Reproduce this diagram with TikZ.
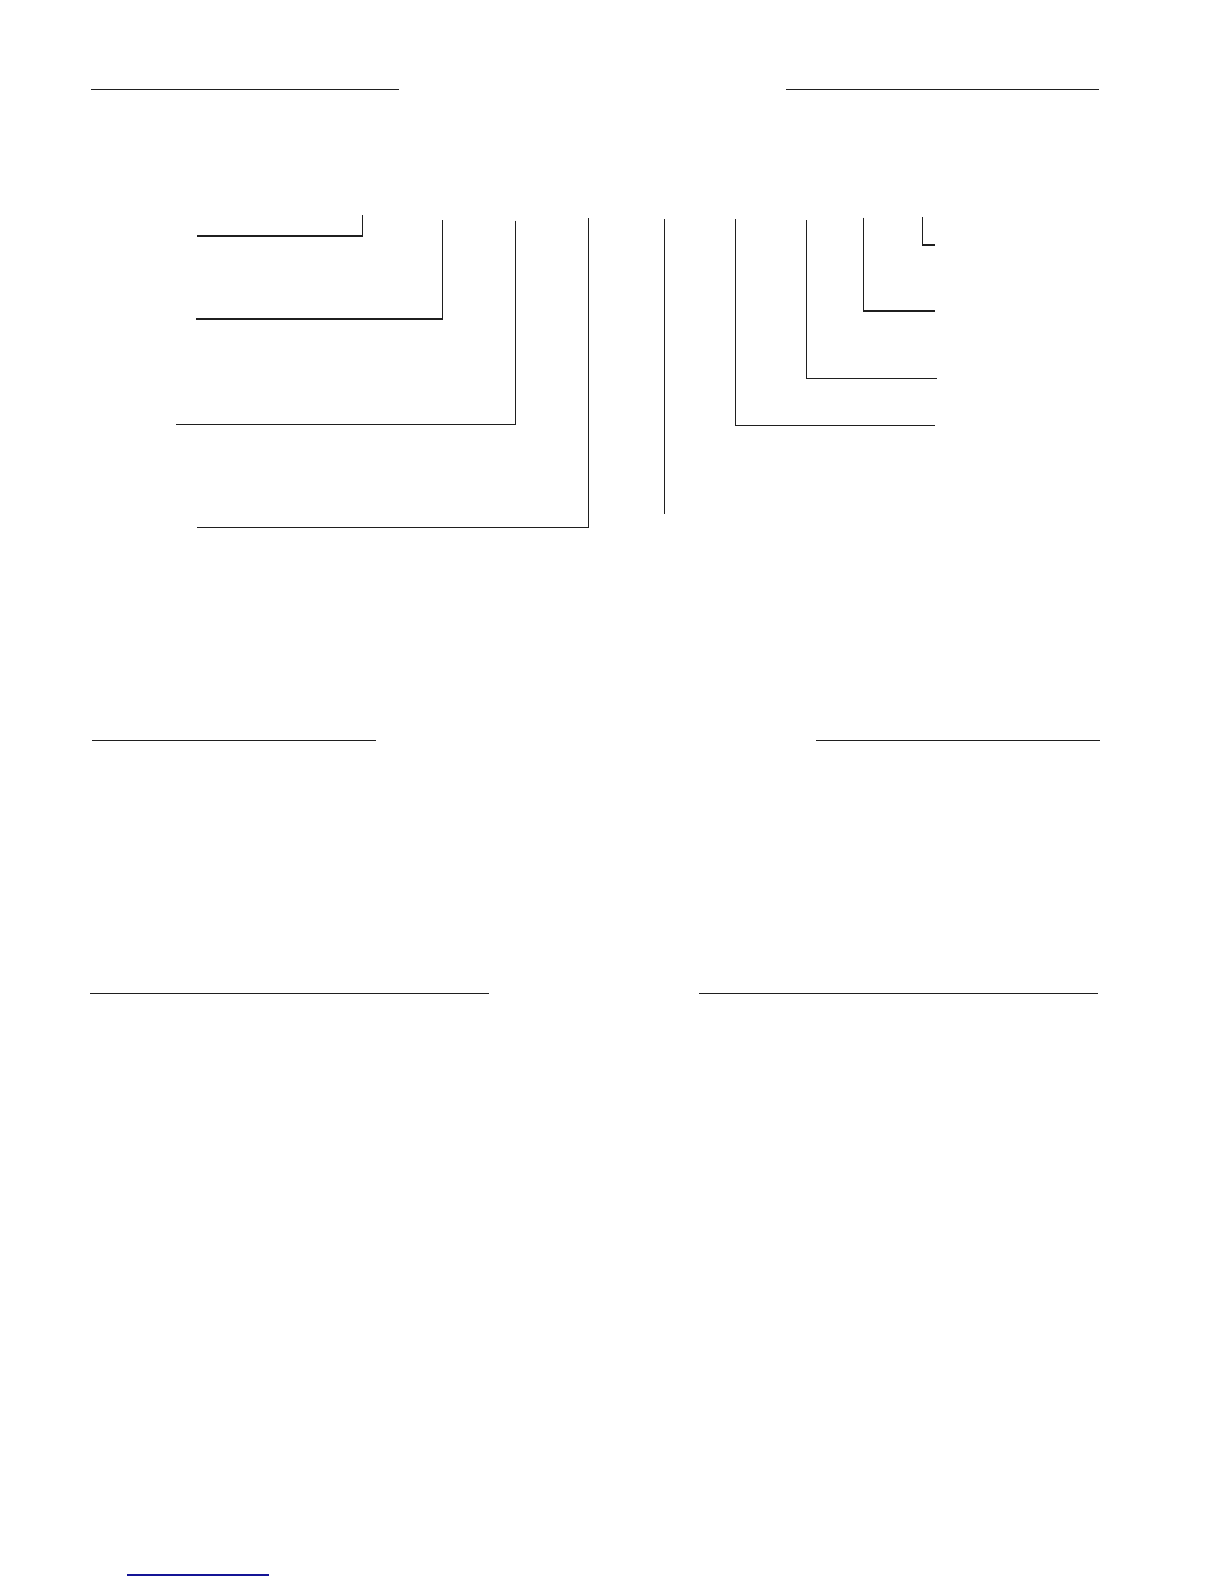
\documentclass[tikz,border=0pt]{standalone}
\usepackage{xcolor}
\definecolor{linkblue}{RGB}{20,20,150}
\begin{document}
\begin{tikzpicture}[x=0.5pt,y=-0.5pt,
  rule/.style={draw=black!88, line width=0.55pt, line cap=butt, line join=miter},
  bluerule/.style={draw=linkblue, line width=0.6pt}]
\useasboundingbox[fill=white] (0,0) rectangle (1224,1584);
% top rules
\draw[rule] (91,89.3) -- (399,89.3);
\draw[rule] (786,89.3) -- (1099,89.3);
% left leader lines
\draw[rule] (362.3,215) -- (362.3,236) -- (196.7,236);
\draw[rule] (442.3,220) -- (442.3,319) -- (195.7,319);
\draw[rule] (515.3,220.7) -- (515.3,424.3) -- (176,424.3);
\draw[rule] (588.3,218.3) -- (588.3,527.3) -- (196.7,527.3);
% centre line
\draw[rule] (664.3,219.3) -- (664.3,514.3);
% right leader lines
\draw[rule] (735.3,219.3) -- (735.3,425.3) -- (935,425.3);
\draw[rule] (806.3,220) -- (806.3,378.3) -- (936.7,378.3);
\draw[rule] (863.3,217.7) -- (863.3,311) -- (935,311);
\draw[rule] (922.3,217) -- (922.3,245) -- (935,245);
% middle rules
\draw[rule] (92,740.3) -- (375.7,740.3);
\draw[rule] (816,740.3) -- (1100,740.3);
% lower rules
\draw[rule] (90,993.3) -- (489,993.3);
\draw[rule] (699,993.3) -- (1097.7,993.3);
% bottom blue rule
\draw[bluerule] (127,1575) -- (269,1575);
\end{tikzpicture}
\end{document}
